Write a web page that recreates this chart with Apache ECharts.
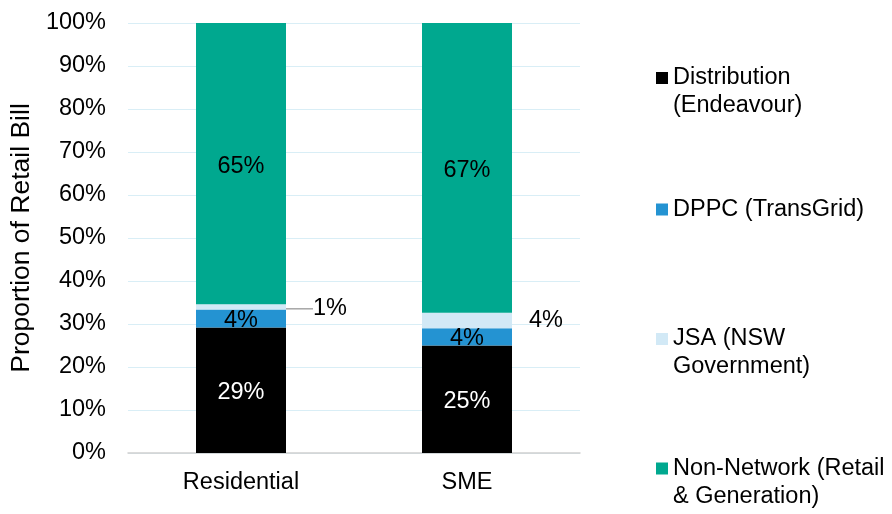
<!DOCTYPE html>
<html><head><meta charset="utf-8">
<script src="https://cdn.jsdelivr.net/npm/echarts@6/dist/echarts.min.js"></script>
<style>html,body{margin:0;padding:0;background:#fff}#c{width:892px;height:514px}</style>
</head><body><div id="c"></div>
<script>
const categories = ['Residential', 'SME'];
const seriesNames = ['Distribution\n(Endeavour)', 'DPPC (TransGrid)', 'JSA (NSW\nGovernment)', 'Non-Network (Retail\n& Generation)'];
const distribution = [29.2, 25.0];
const dppc = [4.2, 4.0];
const jsa = [1.2, 3.6];
const nonNetwork = [65.4, 67.4];
const colors = ['#000000', '#2493D2', '#D2E9F6', '#00A88F'];

const FONT = '"Liberation Sans", Arial, sans-serif';
const FS = 23.5;
const pct = p => Math.round(p.value) + '%';

const legendTops = [36, 195.5, 297, 426.5];
const legends = seriesNames.map((n, i) => ({
  data: [n], left: 656, top: legendTops[i], orient: 'vertical', padding: 0,
  icon: 'rect', itemWidth: 12, itemHeight: 12, itemGap: 0, itemTextGap: 5,
  selectedMode: false,
  formatter: name => name.indexOf('\n') >= 0 ? '\n' + name : name,
  textStyle: {fontSize: FS, fontFamily: FONT, color: '#000', lineHeight: 28}
}));

const baseLabel = {show: true, fontSize: FS, fontFamily: FONT, formatter: pct};

const option = {
  animation: false,
  color: colors,
  grid: {left: 128, right: 312, top: 23, bottom: 61},
  legend: legends,
  xAxis: {
    type: 'category', data: categories,
    axisLine: {lineStyle: {color: '#D0D0D0', width: 1.5}},
    axisTick: {show: false},
    axisLabel: {fontSize: FS, fontFamily: FONT, color: '#000', margin: 18}
  },
  yAxis: {
    type: 'value', min: 0, max: 100, interval: 10,
    name: 'Proportion of Retail Bill', nameLocation: 'middle', nameGap: 88,
    nameTextStyle: {fontSize: 26.5, fontFamily: FONT, color: '#000'},
    axisLine: {show: false}, axisTick: {show: false},
    axisLabel: {fontSize: FS, fontFamily: FONT, color: '#000', margin: 22, formatter: '{value}%'},
    splitLine: {lineStyle: {color: '#D9EEF6', width: 1}}
  },
  series: [
    {name: seriesNames[0], type: 'bar', stack: 's', barWidth: 90, data: distribution,
      label: Object.assign({}, baseLabel, {position: 'inside', color: '#fff', offset: [0, 2]})},
    {name: seriesNames[1], type: 'bar', stack: 's', barWidth: 90, data: dppc,
      label: Object.assign({}, baseLabel, {position: 'inside', color: '#000', offset: [0, 2]})},
    {name: seriesNames[2], type: 'bar', stack: 's', barWidth: 90,
      data: [
        {value: jsa[0]},
        {value: jsa[1], label: {offset: [0, 3]}, labelLine: {show: false}}
      ],
      label: Object.assign({}, baseLabel, {position: 'right', distance: 8, color: '#000', padding: [0, 0, 0, 9]}),
      labelLayout: function (p) { return p.dataIndex === 0 ? {dx: 10, dy: 2} : null; },
      labelLine: {show: true, lineStyle: {color: '#A6A6A6', width: 1.5}}},
    {name: seriesNames[3], type: 'bar', stack: 's', barWidth: 90, data: nonNetwork,
      label: Object.assign({}, baseLabel, {position: 'inside', color: '#000', offset: [0, 3]})}
  ]
};
echarts.init(document.getElementById('c')).setOption(option);
</script></body></html>
